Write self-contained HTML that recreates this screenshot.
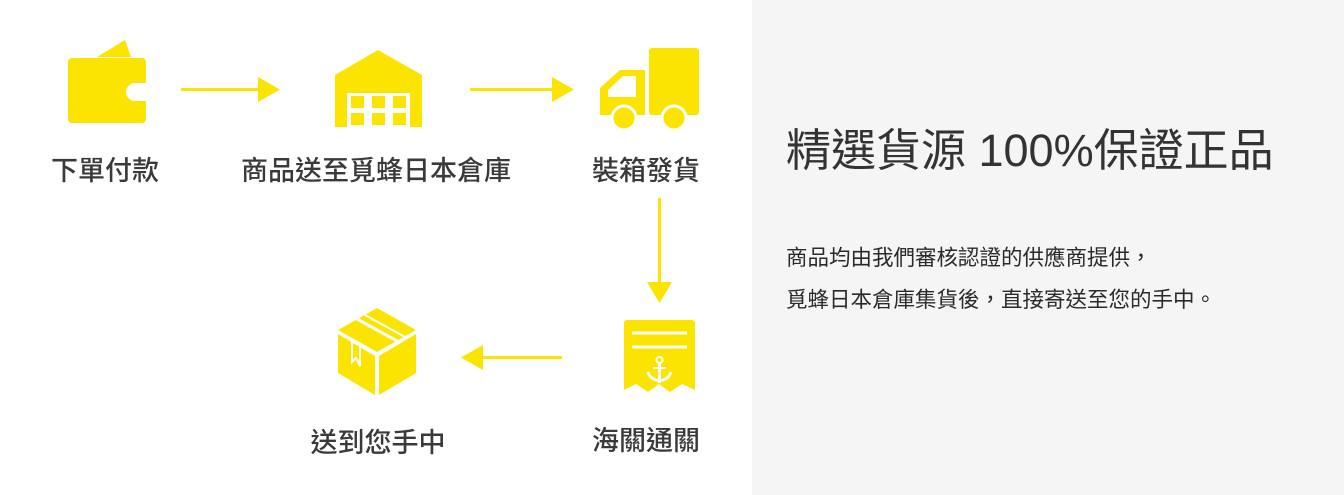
<!DOCTYPE html>
<html><head><meta charset="utf-8"><style>
body{margin:0;width:1344px;height:495px;overflow:hidden;background:#fff;font-family:"Liberation Sans","Noto Sans CJK TC",sans-serif;position:relative}
.r{position:absolute;left:752px;top:0;width:592px;height:495px;background:#f5f5f5}
.t{position:absolute;color:#333;white-space:nowrap}
.l{font-size:27px;font-weight:500;color:#3a3a3a;transform:translateX(-50%)}
</style></head><body>
<svg width="752" height="495" style="position:absolute;left:0;top:0">
<g fill="#fbe400">
<polygon points="97,57 125,40 131,57"/>
<path d="M72,58 H142 a4,4 0 0 1 4,4 V83 H135 a9,9 0 0 0 0,18 H146 V119 a4,4 0 0 1 -4,4 H72 a4,4 0 0 1 -4,-4 V62 a4,4 0 0 1 4,-4Z"/>
<path d="M335,75 L378,50 L422,75 V127 H410 V93 H347 V127 H335Z"/>
<rect x="351" y="96" width="13" height="12"/><rect x="372" y="96" width="13" height="12"/><rect x="393" y="96" width="13" height="12"/>
<rect x="351" y="113" width="13" height="12"/><rect x="372" y="113" width="13" height="12"/><rect x="393" y="113" width="13" height="12"/>
<rect x="649" y="48" width="50" height="67" rx="3"/>
<path d="M620,70 H645 V115 H600 V88Z M623,76 L608,90 V97 H636 V76Z" fill-rule="evenodd"/>
<circle cx="624" cy="118" r="12" stroke="#fff" stroke-width="3"/>
<circle cx="674" cy="118" r="12" stroke="#fff" stroke-width="3"/>
<path d="M624,323 a3,3 0 0 1 3,-3 H692 a3,3 0 0 1 3,3 V390 L682,384 L670,392 L659,384 L648,392 L636,384 L624,390Z"/>
<polygon points="377,308 416,330 377,352 338,330"/>
<polygon points="338,334 375,356 375,395 338,373"/>
<polygon points="416,334 379,356 379,395 416,373"/>
<rect x="181" y="88" width="80" height="3"/><polygon points="258,77 280,89.5 258,102"/>
<rect x="470" y="88" width="85" height="3"/><polygon points="552,77 574,89.5 552,102"/>
<rect x="658" y="198" width="3" height="88"/><polygon points="647,282 672,282 659.5,303"/>
<rect x="480" y="356" width="82" height="3"/><polygon points="483,345 461,357.5 483,370"/>
</g>
<g stroke="#fff" stroke-width="3" fill="none">
<line x1="632" y1="333" x2="687" y2="333"/><line x1="632" y1="347" x2="687" y2="347"/>
<line x1="659.5" y1="363" x2="659.5" y2="383"/><circle cx="659.5" cy="360" r="3" stroke-width="2"/>
<line x1="653" y1="368" x2="666" y2="368" stroke-width="2"/>
<path d="M648,372 a12,12 0 0 0 23,0"/>
<line x1="357" y1="319" x2="397" y2="341" stroke-width="3"/>
<line x1="365" y1="315" x2="405" y2="337" stroke-width="2"/>
<path d="M352,340 V362 L356,358 L360,366 V344" stroke-width="2"/>
</g>
</svg>
<div class="t l" style="left:105px;top:149px">下單付款</div>
<div class="t l" style="left:376px;top:149px">商品送至覓蜂日本倉庫</div>
<div class="t l" style="left:646px;top:149px">裝箱發貨</div>
<div class="t l" style="left:378px;top:421px">送到您手中</div>
<div class="t l" style="left:646px;top:419px">海關通關</div>
<div class="r"></div>
<div class="t" style="left:786px;top:114px;font-size:45px">精選貨源 100%保證正品</div>
<div class="t" style="left:786px;top:237px;font-size:21.5px;line-height:42px;color:#2a2a2a">商品均由我們審核認證的供應商提供，<br>覓蜂日本倉庫集貨後，直接寄送至您的手中。</div>
</body></html>
